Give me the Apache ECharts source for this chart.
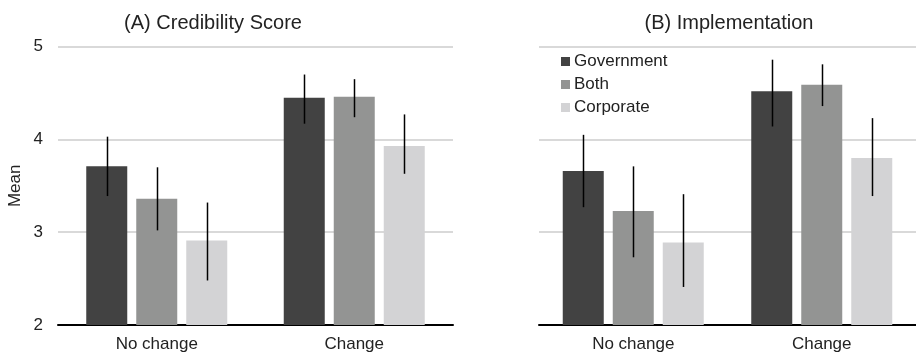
<!DOCTYPE html>
<html><head><meta charset="utf-8">
<script src="https://cdn.jsdelivr.net/npm/echarts@6/dist/echarts.min.js"></script>
<style>html,body{margin:0;padding:0;background:#fff}#c{width:916px;height:355px}</style>
</head><body><div id="c"></div>
<script>
const categories = ['No change', 'Change'];
const seriesNames = ['Government', 'Both', 'Corporate'];
const yTicks = [2, 3, 4, 5];
// Panel A: Credibility Score
const credGov = [3.71, 4.45];
const credBoth = [3.36, 4.46];
const credCorp = [2.91, 3.93];
const credGovLo = [3.39, 4.17], credGovHi = [4.03, 4.70];
const credBothLo = [3.02, 4.24], credBothHi = [3.70, 4.65];
const credCorpLo = [2.48, 3.63], credCorpHi = [3.32, 4.27];
// Panel B: Implementation
const implGov = [3.66, 4.52];
const implBoth = [3.23, 4.59];
const implCorp = [2.89, 3.80];
const implGovLo = [3.27, 4.14], implGovHi = [4.05, 4.86];
const implBothLo = [2.73, 4.36], implBothHi = [3.71, 4.81];
const implCorpLo = [2.41, 3.39], implCorpHi = [3.41, 4.23];

const colors = ['#424242', '#939493', '#d3d3d5'];
const font = 'Liberation Sans, Arial, sans-serif';
const chart = echarts.init(document.getElementById('c'));

const barW = 41;
const gapPx = 9;
function errSeries(gi, idx, lo, hi) {
  return {
    type: 'custom', xAxisIndex: gi, yAxisIndex: gi, z: 10, silent: true,
    data: categories.map((c, i) => [i, lo[i], hi[i]]),
    renderItem: function (params, api) {
      const p0 = api.coord([api.value(0), api.value(1)]);
      const p1 = api.coord([api.value(0), api.value(2)]);
      const x = Math.round(p0[0] + (idx - 1) * (barW + gapPx)) + 0.5;
      return { type: 'line', shape: { x1: x, y1: p0[1], x2: x, y2: p1[1] },
        style: { stroke: '#000', lineWidth: 1.5 } };
    }
  };
}
function barSeries(gi, idx, vals) {
  return {
    type: 'bar', name: seriesNames[idx], xAxisIndex: gi, yAxisIndex: gi,
    data: vals, barWidth: barW, barGap: (gapPx / barW * 100) + '%',
    itemStyle: { color: colors[idx] }
  };
}
function xAx(gi) {
  return { type: 'category', gridIndex: gi, data: categories,
    axisLine: { lineStyle: { color: '#000', width: 2 } }, axisTick: { show: false },
    axisLabel: { color: '#222', fontSize: 17, fontFamily: font, margin: 11 } };
}
function yAx(gi, showLabels) {
  return { type: 'value', gridIndex: gi, min: yTicks[0], max: yTicks[yTicks.length - 1], interval: 1,
    axisLine: { show: false }, axisTick: { show: false },
    axisLabel: { show: showLabels, color: '#222', fontSize: 17, fontFamily: font, margin: 15 },
    splitLine: { lineStyle: { color: '#cccccc', width: 1.5 } },
    name: showLabels ? 'Mean' : '', nameLocation: 'middle', nameGap: 34,
    nameTextStyle: { color: '#222', fontSize: 17, fontFamily: font } };
}
chart.setOption({
  animation: false,
  title: [
    { text: '(A) Credibility Score', left: 208, top: 8, textAlign: 'center',
      textStyle: { fontSize: 20, fontWeight: 'normal', color: '#222', fontFamily: font } },
    { text: '(B) Implementation', left: 724, top: 8, textAlign: 'center',
      textStyle: { fontSize: 20, fontWeight: 'normal', color: '#222', fontFamily: font } }
  ],
  legend: {
    data: seriesNames, orient: 'vertical', left: 556, top: 48, itemWidth: 9, itemHeight: 9,
    itemGap: 6, icon: 'rect', textStyle: { fontSize: 17, color: '#222', fontFamily: font, padding: [0, 0, 0, -1] }
  },
  grid: [
    { left: 58, right: 463, top: 46.7, bottom: 30 },
    { left: 539, right: -6, top: 46.7, bottom: 30 }
  ],
  xAxis: [xAx(0), xAx(1)],
  yAxis: [yAx(0, true), yAx(1, false)],
  series: [
    barSeries(0, 0, credGov), barSeries(0, 1, credBoth), barSeries(0, 2, credCorp),
    barSeries(1, 0, implGov), barSeries(1, 1, implBoth), barSeries(1, 2, implCorp),
    errSeries(0, 0, credGovLo, credGovHi), errSeries(0, 1, credBothLo, credBothHi), errSeries(0, 2, credCorpLo, credCorpHi),
    errSeries(1, 0, implGovLo, implGovHi), errSeries(1, 1, implBothLo, implBothHi), errSeries(1, 2, implCorpLo, implCorpHi)
  ]
});
</script></body></html>
